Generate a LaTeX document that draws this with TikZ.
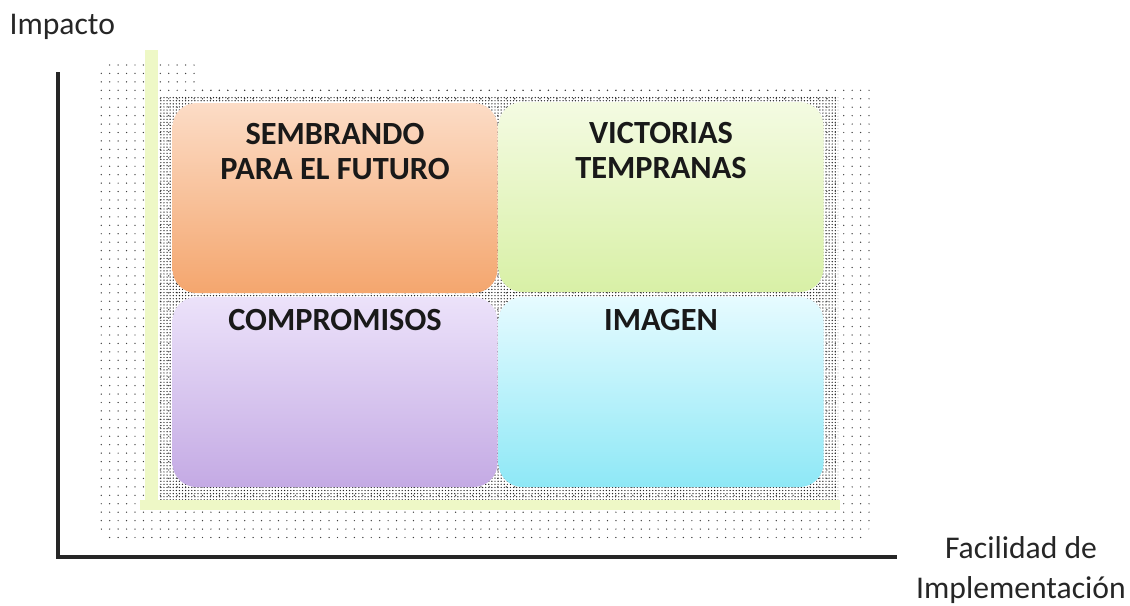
\documentclass[tikz,border=0pt]{standalone}
\usepackage{fontspec}
\setmainfont{Carlito}
\usetikzlibrary{patterns,patterns.meta,backgrounds}
\definecolor{peachtop}{HTML}{FCDCC6}
\definecolor{peachbot}{HTML}{F4A66E}
\definecolor{limetop}{HTML}{F4FBE2}
\definecolor{limebot}{HTML}{D8F0A6}
\definecolor{lilactop}{HTML}{ECE2FA}
\definecolor{lilacbot}{HTML}{C4AAE4}
\definecolor{aquatop}{HTML}{E6FBFF}
\definecolor{aquabot}{HTML}{8EE8F6}
\definecolor{band}{HTML}{EEF8C6}

\begin{document}
\begin{tikzpicture}[x=0.025cm,y=-0.025cm,thick]
        %
        % `quadrant' is used for the four boxes.
        % `caption' is the bold text on top of a box.
        % `axislabel' is used for the two axis names.
        \tikzstyle{quadrant} = [rounded corners=6mm,inner sep=0pt,minimum width=325*0.025cm,minimum height=190*0.025cm]
        \tikzstyle{caption} = [align=center,font=\fontsize{23}{25}\selectfont\bfseries,text=black!90,inner sep=0pt,anchor=north]
        \tikzstyle{axislabel} = [align=center,font=\fontsize{22.5}{29}\selectfont,text=black!85,inner sep=0pt]
        \useasboundingbox (0,0) rectangle (1130,605);
        %
        % Dotted backdrop
        \fill[pattern={Dots[radius=0.5pt,distance=6pt]},pattern color=black!75,rounded corners=4mm] (100,62) rectangle (870,540);
        \fill[white] (200,55) rectangle (875,84);
        \fill[pattern={Dots[radius=0.5pt,distance=6pt]},pattern color=black!75] (200,86) rectangle (830,100);
        \fill[pattern={Dots[radius=0.5pt,distance=2.2pt]},pattern color=black!85] (160,96) rectangle (838,500);
        %
        % Light axis bands
        \fill[band] (145,50) rectangle (158,500);
        \fill[band] (140,500) rectangle (840,510);
        %
        % Axes
        \coordinate (ytop) at (58,72);
        \coordinate (origin) at (58,557);
        \coordinate (xend) at (897,557);
        \draw[line width=2.2pt,black!85] (ytop) -- (origin) -- (xend);
        \node[axislabel,anchor=west] (impact) at (9,27) {Impacto};
        \node[axislabel] (ease) at (1021,570) {Facilidad de\\Implementación};
        %
        % Top row
        \node[quadrant,top color=peachtop,bottom color=peachbot] (seed) at (335,198) {};
        \node[caption] (seedtxt) at ([yshift=-0.5cm]seed.north) {SEMBRANDO\\PARA EL FUTURO};
        \node[quadrant,top color=limetop,bottom color=limebot] (wins) at (661,197) {};
        \node[caption] (winstxt) at ([yshift=-0.5cm]wins.north) {VICTORIAS\\TEMPRANAS};
        %
        % Bottom row
        \node[quadrant,top color=lilactop,bottom color=lilacbot] (pledge) at (335,392) {};
        \node[caption] (pledgetxt) at ([yshift=-0.3cm]pledge.north) {COMPROMISOS};
        \node[quadrant,top color=aquatop,bottom color=aquabot] (image) at (661,392) {};
        \node[caption] (imagetxt) at ([yshift=-0.3cm]image.north) {IMAGEN};
        %
\end{tikzpicture}
\end{document}
